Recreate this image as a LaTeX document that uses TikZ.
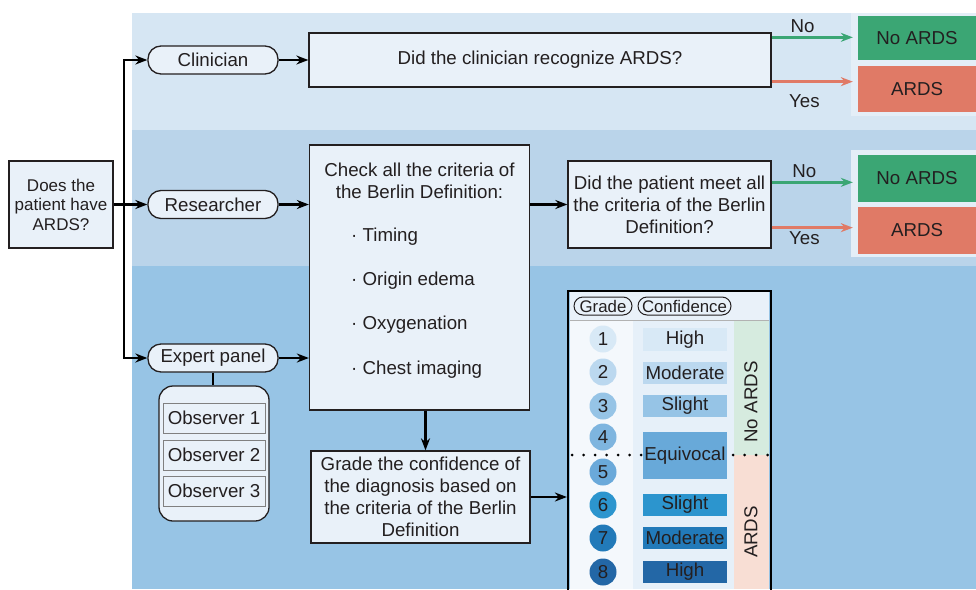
\documentclass[tikz,border=0pt]{standalone}
\usepackage{fontspec}
\setmainfont{Liberation Sans}
\usepackage{xcolor}
\usetikzlibrary{arrows.meta,calc,positioning}
\definecolor{inkgray}{HTML}{231F20}
\definecolor{bandtop}{HTML}{D6E6F3}
\definecolor{bandmid}{HTML}{BAD4EA}
\definecolor{bandlow}{HTML}{97C4E5}
\definecolor{boxfill}{HTML}{E9F1F9}
\definecolor{panelfill}{HTML}{E4EEF7}
\definecolor{noardsgreen}{HTML}{3BA674}
\definecolor{ardsred}{HTML}{E07A66}
\definecolor{gradecol}{HTML}{F4F8FC}
\definecolor{confcol}{HTML}{E6F0F9}
\definecolor{nozone}{HTML}{D6EBDF}
\definecolor{yeszone}{HTML}{F8DED4}
\definecolor{shadeA}{HTML}{D8E9F6}
\definecolor{shadeB}{HTML}{BBD8EF}
\definecolor{shadeC}{HTML}{96C4E6}
\definecolor{shadeD}{HTML}{7EB5DF}
\definecolor{shadeQ}{HTML}{68A9D9}
\definecolor{shadeE}{HTML}{6AA9DA}
\definecolor{shadeF}{HTML}{2C95CE}
\definecolor{shadeG}{HTML}{227AB9}
\definecolor{shadeH}{HTML}{2367A6}
\newcommand{\TextSize}{\fontsize{18.7}{22}\selectfont}
\newcommand{\SmallSize}{\fontsize{17}{19.5}\selectfont}
\tikzset{
  flowbox/.style={draw=inkgray, line width=1.3pt, fill=boxfill, align=center,
    inner sep=0pt, text=inkgray, font=\TextSize},
  pill/.style={flowbox, rounded corners=13pt, minimum width=130pt, minimum height=28pt},
  flowArrow/.style={-{Stealth[length=12pt,width=9pt]}, line width=2.5pt},
  noArrow/.style={-{Stealth[length=12pt,width=9pt]}, line width=2.4pt, draw=noardsgreen, shorten >=5pt},
  yesArrow/.style={-{Stealth[length=12pt,width=9pt]}, line width=2.4pt, draw=ardsred, shorten >=5pt},
  branchLabel/.style={text=inkgray, font=\TextSize, inner sep=3pt},
  outcome/.style={text=inkgray, font=\TextSize, minimum width=118pt, inner sep=0pt},
  observer/.style={draw=black!50, line width=1pt, fill=boxfill, minimum width=102pt,
    minimum height=30pt, font=\TextSize, text=inkgray, inner sep=0pt},
  gradeDot/.style={circle, inner sep=0pt, minimum size=27pt, font=\TextSize, text=inkgray},
  confBar/.style={minimum width=84pt, inner sep=0pt, font=\TextSize, text=inkgray},
  headPill/.style={draw=inkgray, line width=1pt, fill=boxfill, rounded corners=9pt,
    minimum height=18pt, inner sep=0pt, text=inkgray, font=\fontsize{16.8}{18}\selectfont}
}

\begin{document}
\begin{tikzpicture}[x=1pt, y=-1pt]
  \clip (0,0) rectangle (976,589);
  % background bands
  \fill[white] (0,0) rectangle (976,589);
  \fill[bandtop] (132,13) rectangle (976,130);
  \fill[bandmid] (132,130) rectangle (976,266);
  \fill[bandlow] (132,266) rectangle (976,589);
  \fill[panelfill] (851,13) rectangle (976,116);
  \fill[panelfill] (851,150) rectangle (976,257);

  % who decides
  \node[flowbox, minimum width=104pt, minimum height=87pt, font=\SmallSize] (start) at (61,204.5) {Does the\\patient have\\ARDS?};
  \coordinate (split) at (124,204.5);
  \node[pill] (clin) at (213,60) {Clinician};
  \node[pill] (res) at (213,204.5) {Researcher};
  \node[pill] (panel) at (213,358) {Expert panel};
  \draw[line width=2.5pt] (start.east) -- (split);
  \draw[flowArrow] (split) |- (clin.west);
  \draw[flowArrow] (split) -- (res.west);
  \draw[flowArrow] (split) |- (panel.west);

  % clinician row
  \node[flowbox, minimum width=462pt, minimum height=54pt] (clinQ) at (540,60) {Did the clinician recognize ARDS?};
  \draw[flowArrow] (clin.east) -- (clinQ.west);
  \node[outcome, fill=noardsgreen, minimum height=44pt] (noA) at (917,38) {No ARDS};
  \node[outcome, fill=ardsred, minimum height=46pt] (yesA) at (917,89) {ARDS};
  \draw[noArrow] ([yshift=-5pt]clinQ.north east) -- ([yshift=-5pt]clinQ.north east -| noA.west)
    node[branchLabel, above, pos=0.36] (noLabA) {No};
  \draw[yesArrow] ([yshift=6pt]clinQ.south east) -- ([yshift=6pt]clinQ.south east -| yesA.west)
    node[branchLabel, below=9pt, pos=0.38] (yesLabA) {Yes};

  % researcher row
  \node[flowbox, minimum width=220pt, minimum height=265pt] (criteria) at (419.5,277.5) {};
  \node[text=inkgray, font=\TextSize, align=center, inner sep=0pt] (critHead) at (419.5,181) {Check all the criteria of\\the Berlin Definition:};
  \foreach \crit/\yy [count=\i] in {Timing/237, Origin edema/281, Oxygenation/325, Chest imaging/370}
    \node[text=inkgray, font=\TextSize, anchor=west, inner sep=0pt] (crit\i) at (351,\yy) {· \crit};
  \draw[flowArrow] (res.east) -- (res.east -| criteria.west);
  \draw[flowArrow] (panel.east) -- (panel.east -| criteria.west);
  \node[flowbox, minimum width=203pt, minimum height=87pt] (resQ) at (669.5,204.5) {Did the patient meet all\\the criteria of the Berlin\\Definition?};
  \draw[flowArrow] (criteria.east |- resQ.west) -- (resQ.west);
  \node[outcome, fill=noardsgreen, minimum height=47pt] (noB) at (917,178) {No ARDS};
  \node[outcome, fill=ardsred, minimum height=47pt] (yesB) at (917,230) {ARDS};
  \draw[noArrow] ([yshift=-22pt]resQ.north east) -- ([yshift=-22pt]resQ.north east -| noB.west)
    node[branchLabel, above, pos=0.38] (noLabB) {No};
  \draw[yesArrow] ([yshift=21pt]resQ.south east) -- ([yshift=21pt]resQ.south east -| yesB.west)
    node[branchLabel, below, pos=0.38] (yesLabB) {Yes};

  % expert panel
  \node[flowbox, rounded corners=14pt, minimum width=110pt, minimum height=135pt] (observers) at (214,453.5) {};
  \draw[line width=2.5pt] (panel.south) -- (panel.south |- observers.north);
  \foreach \k/\yy in {1/418, 2/455, 3/491}
    \node[observer] (obs\k) at (214,\yy) {Observer \k};
  \node[flowbox, minimum width=219pt, minimum height=92pt] (gradeBox) at (420.5,497) {Grade the confidence of\\the diagnosis based on\\the criteria of the Berlin\\Definition};
  \draw[flowArrow] ([xshift=6pt]criteria.south) -- ([xshift=6pt]criteria.south |- gradeBox.north);

  % grading table
  \fill[boxfill] (570,292) rectangle (769,320);
  \fill[gradecol] (570,320) rectangle (633,589);
  \fill[confcol] (633,320) rectangle (734,589);
  \fill[nozone] (734,320) rectangle (769,455);
  \fill[yeszone] (734,455) rectangle (769,589);
  \draw[black!30, line width=1pt] (570,320.5) -- (769,320.5);
  \node[headPill, minimum width=58pt] (gradeHead) at (603,306) {Grade};
  \node[headPill, minimum width=93pt] (confHead) at (684.5,306) {Confidence};
  \draw[line width=3pt, line cap=round, dash pattern=on 0pt off 11.5pt] (572,455) -- (770,455);
  \foreach \g/\yy/\shade in {1/339/shadeA, 2/372/shadeB, 3/406/shadeC, 4/437/shadeD,
                             5/472/shadeE, 6/505/shadeF, 7/538/shadeG, 8/572/shadeH}
    \node[gradeDot, fill=\shade] (dot\g) at (603,\yy) {\g};
  \foreach \lvl/\yy/\hh/\shade [count=\i] in {High/339.5/23/shadeA, Moderate/373/22/shadeB,
      Slight/406/22/shadeC, Equivocal/455.5/47/shadeQ, Slight/505/22/shadeF,
      Moderate/538/22/shadeG, High/572/22/shadeH}
    \node[confBar, minimum height=\hh pt, fill=\shade] (conf\i) at (685,\yy) {\lvl};
  \node[rotate=90, font=\TextSize, text=inkgray, inner sep=0pt] (noZone) at (751,402) {No ARDS};
  \node[rotate=90, font=\TextSize, text=inkgray, inner sep=0pt] (yesZone) at (751,532) {ARDS};
  \node[draw=black, line width=2.2pt, minimum width=203pt, minimum height=320pt, inner sep=0pt] (gradeTable) at (669.5,451) {};
  \draw[flowArrow] (gradeBox.east) -- (gradeBox.east -| gradeTable.west);
\end{tikzpicture}
\end{document}
